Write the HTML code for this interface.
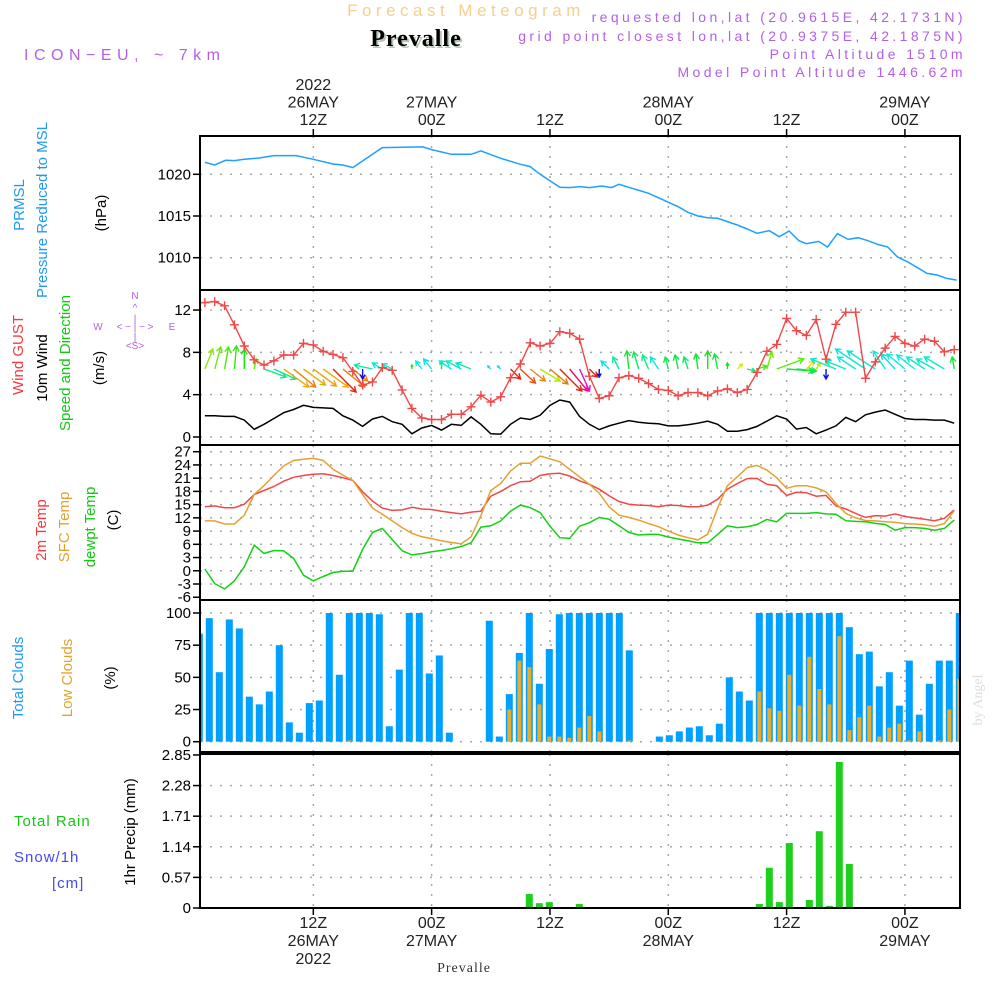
<!DOCTYPE html>
<html><head><meta charset="utf-8"><style>
html,body{margin:0;padding:0;background:#fff;}
svg{display:block;font-family:"Liberation Sans",sans-serif;}
</style></head><body>
<svg id="chart" width="1000" height="1000" viewBox="0 0 1000 1000" xmlns="http://www.w3.org/2000/svg">
<rect x="0" y="0" width="1000" height="1000" fill="#fff"/>
<text x="466" y="16" text-anchor="middle" font-size="17" fill="#f5cf8e" letter-spacing="4.5">Forecast Meteogram</text>
<text x="418" y="48" text-anchor="middle" font-size="24" font-weight="bold" font-family="Liberation Serif, serif" fill="#b8c8b8" letter-spacing="1">Prevalle</text>
<text x="416" y="46" text-anchor="middle" font-size="24" font-weight="bold" font-family="Liberation Serif, serif" fill="#000" letter-spacing="1">Prevalle</text>
<text x="24" y="60" font-size="16" fill="#b45fe6" letter-spacing="5.5">ICON−EU, ~ 7km</text>
<g font-size="14" fill="#b45fe6" text-anchor="end" letter-spacing="3.4">
<text x="966" y="22">requested lon,lat (20.9615E, 42.1731N)</text>
<text x="966" y="41">grid point closest lon,lat (20.9375E, 42.1875N)</text>
<text x="966" y="59">Point Altitude 1510m</text>
<text x="966" y="77">Model Point Altitude 1446.62m</text>
</g>
<g font-size="15">
<text transform="translate(24,205) rotate(-90)" text-anchor="middle" fill="#1e9bf0">PRMSL</text>
<text transform="translate(47,210) rotate(-90)" text-anchor="middle" fill="#1e9bf0">Pressure Reduced to MSL</text>
<text transform="translate(106,213) rotate(-90)" text-anchor="middle" fill="#000">(hPa)</text>
<text transform="translate(23,355) rotate(-90)" text-anchor="middle" fill="#f03c3c">Wind GUST</text>
<text transform="translate(47,368) rotate(-90)" text-anchor="middle" fill="#000">10m Wind</text>
<text transform="translate(70,363) rotate(-90)" text-anchor="middle" fill="#12c812">Speed and Direction</text>
<text transform="translate(104,368) rotate(-90)" text-anchor="middle" fill="#000">(m/s)</text>
<text transform="translate(46,530) rotate(-90)" text-anchor="middle" fill="#f03c3c">2m Temp</text>
<text transform="translate(69,527) rotate(-90)" text-anchor="middle" fill="#e6a030">SFC Temp</text>
<text transform="translate(95,527) rotate(-90)" text-anchor="middle" fill="#12c812">dewpt Temp</text>
<text transform="translate(118,520) rotate(-90)" text-anchor="middle" fill="#000">(C)</text>
<text transform="translate(23,678) rotate(-90)" text-anchor="middle" fill="#1e9bf0">Total Clouds</text>
<text transform="translate(72,678) rotate(-90)" text-anchor="middle" fill="#e6a030">Low Clouds</text>
<text transform="translate(115,678) rotate(-90)" text-anchor="middle" fill="#000">(%)</text>
<text transform="translate(135,832) rotate(-90)" text-anchor="middle" fill="#000">1hr Precip (mm)</text>
<text x="14" y="826" fill="#12c812" letter-spacing="1">Total  Rain</text>
<text x="14" y="862" fill="#4848f0" letter-spacing="1">Snow/1h</text>
<text x="52" y="888" fill="#4848f0" letter-spacing="1">[cm]</text>
</g>
<g fill="#b45fe6" font-size="10" text-anchor="middle">
<text x="135" y="299">N</text><text x="135" y="311">^</text><text x="135" y="322">|</text>
<text x="98" y="330">W</text><text x="135" y="330">&lt; − | − &gt;</text><text x="172" y="330">E</text>
<text x="135" y="340">|</text><text x="135" y="349">&lt;S&gt;</text>
</g>
<text transform="translate(982,700) rotate(-90)" text-anchor="middle" font-size="14" font-family="Liberation Serif, serif" fill="#ddd">by Angel</text>
<text x="464" y="972" text-anchor="middle" font-size="14" font-family="Liberation Serif, serif" fill="#333" letter-spacing="1">Prevalle</text>
<g id="plots"></g>
</svg>
<script>
// ---------- data ----------
const hours = [1,2,3,4,5,6,7,8,9,10,11,12,13,14,15,16,17,18,19,20,21,22,23,24,25,26,27,28,29,30,31,32,33,34,35,36,37,38,39,40,41,42,43,44,45,46,47,48,49,50,51,52,53,54,55,56,57,58,59,60,61,62,63,64,65,66,67,68,69,70,71,72,73,74,75,76,77];
const timeTicks = [12,24,36,48,60,72];
const topLabels = [["2022","26MAY","12Z"],["27MAY","00Z"],["12Z"],["28MAY","00Z"],["12Z"],["29MAY","00Z"]];
const bottomLabels = [["12Z","26MAY","2022"],["00Z","27MAY"],["12Z"],["00Z","28MAY"],["12Z"],["00Z","29MAY"]];

const pressTimes = [1,2,3.1,4,5,6.5,8,10.25,12,14,15,16,19,23.1,24,26,28,29,31,33,34,35,37,38,39,40,41.25,42.25,43,44,46,49,50,51,52,53,55,56,57,58.25,59.25,60.25,61.25,62,63.25,64.15,65.15,66.25,67.25,68.25,69.25,70.25,71.25,72.25,74.25,75.25,76.25,77.25];
const pressVals = [1021.44,1021.12,1021.68,1021.64,1021.8,1021.96,1022.24,1022.24,1021.8,1021.24,1021.12,1020.8,1023.2,1023.28,1022.96,1022.4,1022.4,1022.8,1021.92,1021.2,1020.92,1020.0,1018.44,1018.4,1018.52,1018.4,1018.6,1018.4,1018.8,1018.44,1017.72,1016.12,1015.44,1015.0,1014.8,1014.72,1013.92,1013.44,1012.92,1013.24,1012.52,1013.2,1012.04,1011.68,1011.96,1011.28,1012.88,1012.2,1012.4,1012.04,1011.6,1011.28,1010.08,1009.52,1008.12,1007.92,1007.52,1007.32];
const pressTicks = [1010,1015,1020];

const gust = [12.7,12.8,12.4,10.6,8.6,7.3,6.8,7.2,7.75,7.75,8.85,8.7,8.1,7.8,7.5,6.2,4.9,5.2,6.55,6.3,4.45,2.7,1.8,1.65,1.65,2.15,2.15,2.85,3.95,3.3,3.8,5.6,6.9,8.9,8.6,8.85,9.95,9.8,9.25,5.75,3.65,3.9,5.6,5.8,5.55,5.05,4.5,4.4,3.9,4.2,4.2,3.9,4.35,4.55,4.2,4.5,6.1,8.1,8.75,11.2,10.05,9.6,11.1,7.35,10.65,11.8,11.8,5.55,7.1,8.4,9.5,8.85,8.6,9.25,9.05,8.05,8.25];
const wind10 = [2.0,2.0,1.95,1.95,1.6,0.73,1.2,1.75,2.3,2.6,3.0,2.8,2.75,2.7,2.0,1.6,1.0,1.7,1.95,1.45,1.2,0.3,0.85,1.1,0.65,1.2,1.1,1.9,1.2,0.3,0.27,1.2,1.8,1.65,2.05,3.0,3.5,3.3,1.95,1.2,0.7,1.05,1.3,1.55,1.4,1.3,1.25,1.05,1.05,1.15,1.3,1.5,1.2,0.55,0.55,0.7,1.0,1.5,2.0,1.7,0.75,0.9,0.3,0.65,1.05,1.85,1.45,2.1,2.35,2.55,2.15,1.75,1.65,1.65,1.6,1.6,1.3];
const windU = [0.8,0.6,0.4,0.2,0,0.2,2.2,2.2,2.5,2.2,2.2,2.3,2.5,2.3,2.2,1.5,0,-1.8,-1.0,-1.0,0,0,-0.6,-0.8,0,-1.2,-1.5,-1.5,0,-0.3,-0.3,1.0,1.5,1.5,2.0,1.8,2.2,1.8,1.0,0.8,0,-0.8,-0.6,-0.2,-0.5,-0.6,-0.8,-0.3,-0.3,-0.4,-0.2,0,-0.3,0,0.5,0.8,1.0,0.5,2.7,2.7,2.0,0.8,0.4,0,-2.5,-2.0,-1.8,-3.0,-2.8,-1.2,-1.4,-1.8,-1.8,-1.8,-1.8,-2.0,-0.2];
const windV = [2.0,2.2,2.2,2.3,2.0,1.0,-0.8,-1.0,-1.8,-1.8,-1.6,-1.7,-1.8,-2.3,-1.8,-1.2,-1.0,0.4,0.6,0.5,0,0.4,0.8,1.0,0.8,0.8,0.8,0.6,0,0.3,0.3,-1.0,-1.4,-1.2,-1.2,-1.5,-2.2,-2.2,-2.2,-0.8,-0.8,0.8,1.2,1.8,1.7,1.4,1.2,1.2,1.4,1.2,1.5,1.8,1.5,0.6,0.5,-0.2,0.3,1.7,1.0,-0.2,-0.2,0.8,0.6,-1.0,1.0,0.8,1.2,2.0,1.8,1.8,1.5,1.5,1.4,1.2,1.0,1.2,1.2];
const windTicks = [0,4,8,12];

const temp2m = [14.5,14.7,14.3,14.3,15.1,17.3,18.2,19.1,20.3,21.2,21.6,21.9,22.0,21.6,21.1,20.5,17.9,15.8,14.2,13.7,13.8,14.4,14.0,13.9,13.5,13.2,12.9,13.3,13.5,16.9,18.0,19.3,20.2,20.3,21.6,22.0,22.1,21.5,20.4,19.6,18.5,17.0,15.7,15.1,14.9,14.8,14.5,14.9,14.8,14.5,14.5,14.9,16.2,18.5,19.8,20.9,20.95,19.6,19.3,17.1,17.8,17.7,16.9,17.1,14.7,14.0,13.0,12.1,12.5,12.4,12.9,12.3,12.0,11.7,11.35,11.9,13.8];
const tempSfc = [11.3,11.3,10.6,10.6,12.6,17.3,19.3,21.6,23.8,25.0,25.3,25.5,25.0,23.0,21.7,20.5,17.3,14.2,12.8,11.3,9.8,8.5,7.7,7.3,6.8,6.4,6.1,7.7,12.5,18.2,19.8,22.6,24.4,24.4,26.0,25.4,24.7,23.0,21.3,19.6,17.6,14.5,12.6,12.1,11.5,10.7,10.0,9.0,8.1,7.5,7.0,8.3,14.2,19.3,21.3,23.4,23.9,22.8,21.1,18.7,19.3,19.3,18.8,17.9,15.3,13.0,12.0,11.4,11.3,11.1,11.0,10.7,10.6,10.4,10.1,10.7,13.6];
const dewpt = [0.4,-2.9,-4.1,-2.3,0.9,5.8,3.95,4.6,4.5,2.8,-1.0,-2.3,-1.3,-0.4,-0.1,-0.1,4.85,8.7,9.6,7.1,4.55,3.6,3.9,4.3,4.6,5.0,5.5,6.35,9.9,10.2,11.3,13.5,14.9,14.3,13.2,10.1,7.5,7.35,10.1,10.9,12.1,11.7,10.2,8.7,8.1,8.25,8.25,7.65,7.2,6.8,6.35,6.35,8.25,10.2,9.8,10.0,10.5,11.65,11.1,13.0,13.0,13.0,13.2,12.9,12.8,11.35,11.2,11.1,10.75,10.5,9.2,9.8,9.8,9.6,9.2,9.6,11.5];
const tempTicks = [-6,-3,0,3,6,9,12,15,18,21,24,27];

const cloudTotal = [84,96,54,95,88,35,29,39,75,15,7,30,32,100,52,100,100,100,99,12,56,100,100,53,67,7,0,0,0,94,4,37,69,100,45,72,99,100,100,100,100,100,100,71,0,0,4,5,8,11,12,5,14,50,39,32,100,100,100,100,100,100,100,100,100,89,68,70,43,54,28,63,21,45,63,63,100];
const cloudLow = [0,0,0,0,0,0,0,0,0,0,0,0,0,0,0,1,0,0,0,0,0,0,0,0,0,0,0,0,0,0,0,25,63,58,29,4,4,3,11,20,8,0,0,1,0,0,0,0,0,0,0,0,0,0,0,0,39,26,24,52,28,66,41,29,82,9,19,28,4,11,14,1,8,0,1,25,49];
const cloudTicks = [0,25,50,75,100];

const precip = [0,0,0,0,0,0,0,0,0,0,0,0,0,0,0,0,0,0,0,0,0,0,0,0,0,0,0,0,0,0,0,0,0,0.26,0.09,0.11,0,0,0.075,0,0,0,0,0,0,0,0,0,0,0,0,0,0,0,0,0,0.075,0.75,0.11,1.21,0,0.15,1.43,0.04,2.72,0.82,0,0,0,0,0,0,0,0,0,0,0];
const precipTicks = [0,0.57,1.14,1.71,2.28,2.85];
const precipTickLabels = ["0","0.57","1.14","1.71","2.28","2.85"];

// ---------- axes ----------
const X0 = 200, X1 = 960;
const xT = h => 195 + h * 9.86;            // time axis (hours since 00Z 26 May)
const xBar = k => 199.3 + (k - 1) * 10;    // hourly bar slot axis
const yP = v => 174.3 + (1020 - v) * 8.34;
const yW = v => 437 - v * 10.58;
const yTemp = v => 451.7 + (27 - v) * 4.41;
const yC = v => 741.7 - v * 1.287;
const yR = v => 908 - v * 53.7;

const NS = "http://www.w3.org/2000/svg";
const root = document.getElementById('plots');
function mk(tag, attrs, parent) {
  const e = document.createElementNS(NS, tag);
  for (const k in attrs) e.setAttribute(k, attrs[k]);
  (parent || root).appendChild(e);
  return e;
}
function linePath(xs, ys) { return xs.map((x, i) => (i ? 'L' : 'M') + x.toFixed(1) + ',' + ys[i].toFixed(1)).join(''); }

const panels = [
  {name:'pressure', top:136, bot:290, ticks:pressTicks, labels:pressTicks.map(String), y:yP},
  {name:'wind', top:290, bot:445, ticks:windTicks, labels:windTicks.map(String), y:yW},
  {name:'temperature', top:445, bot:600, ticks:tempTicks, labels:tempTicks.map(String), y:yTemp},
  {name:'clouds', top:600, bot:752, ticks:cloudTicks, labels:cloudTicks.map(String), y:yC},
  {name:'precip', top:754, bot:908, ticks:precipTicks, labels:precipTickLabels, y:yR}
];

panels.forEach(p => {
  const g = mk('g', {});
  
  
  p.ticks.forEach((t, i) => {
    const yy = p.y(t);
    if (yy > p.top + 3 && yy < p.bot - 3) {
      const gl = mk('line', {x1:X0, x2:X1, y1:yy, y2:yy, stroke:'#a8a8a8', 'stroke-width':1.5, 'stroke-dasharray':'2,8'}, g);
      
      
    }
    const tk = mk('line', {x1:X0 - 7, x2:X0, y1:yy, y2:yy, stroke:'#000', 'stroke-width':1.5}, g);
    
    
    const tl = mk('text', {x:X0 - 9, y:yy + 5, 'text-anchor':'end', 'font-size':15, fill:'#000'}, g);
    tl.textContent = p.labels[i];
    
    
  });
  timeTicks.forEach(h => {
    const vl = mk('line', {x1:xT(h), x2:xT(h), y1:p.top, y2:p.bot, stroke:'#a8a8a8', 'stroke-width':1.5, 'stroke-dasharray':'2,8'}, g);
    
    
  });
  p.g = g;
});

// pressure
const pp = mk('path', {d: linePath(pressTimes.map(xT), pressVals.map(yP)), fill:'none', stroke:'#1ea0ff', 'stroke-width':1.5});



// wind 10m
const wl = mk('path', {d: linePath(hours.map(xT), wind10.map(yW)), fill:'none', stroke:'#000', 'stroke-width':1.5});



// wind arrows
const hueStops = [[0,120],[20,85],[45,62],[105,150],[115,160],[122,60],[128,35],[134,15],[138,-20],[150,-40],[185,-135],[230,-170],[280,-200],[320,-175],[345,-220],[360,-240]];
function dirColor(dx, dy) {
  let a = Math.atan2(dx, -dy) * 180 / Math.PI; if (a < 0) a += 360;
  let h = 120;
  for (let i = 1; i < hueStops.length; i++) {
    if (a <= hueStops[i][0]) { const [a0,h0] = hueStops[i-1], [a1,h1] = hueStops[i]; h = h0 + (h1 - h0) * (a - a0) / (a1 - a0); break; }
  }
  h = ((h % 360) + 360) % 360;
  return 'hsl(' + h.toFixed(0) + ',90%,48%)';
}
const arrowG = mk('g', {});


const ARROW_SCALE = 10, ARROW_BASE = 369;
hours.forEach((h, i) => {
  const dx = windU[i] * ARROW_SCALE, dy = -windV[i] * ARROW_SCALE;
  const len = Math.hypot(dx, dy);
  if (len < 1) return;
  const x1 = xT(h), y1 = ARROW_BASE, x2 = x1 + dx, y2 = y1 + dy;
  const c = dirColor(dx, dy);
  const ux = dx / len, uy = dy / len, hl = Math.min(6, len * 0.5);
  const d = `M${x1},${y1}L${x2},${y2}M${x2 - hl*(ux*0.87 - uy*0.5)},${y2 - hl*(uy*0.87 + ux*0.5)}L${x2},${y2}L${x2 - hl*(ux*0.87 + uy*0.5)},${y2 - hl*(uy*0.87 - ux*0.5)}`;
  const a = mk('path', {d, fill:'none', stroke:c, 'stroke-width':1.4}, arrowG);
  
  
});

// gust
const gl = mk('path', {d: linePath(hours.map(xT), gust.map(yW)), fill:'none', stroke:'#f04848', 'stroke-width':1.4});


hours.forEach((h, i) => {
  const x = xT(h), y = yW(gust[i]);
  const m = mk('path', {d:`M${x-4.5},${y}H${x+4.5}M${x},${y-4.5}V${y+4.5}`, stroke:'#f04848', 'stroke-width':1.4});
  
  
});

// temperatures
[[temp2m,'#f04848','temp-2m-line'],[tempSfc,'#e6a030','temp-sfc-line'],[dewpt,'#12d012','dewpoint-line']].forEach(([arr,c,n]) => {
  const l = mk('path', {d: linePath(hours.map(xT), arr.map(yTemp)), fill:'none', stroke:c, 'stroke-width':1.5});
  
  
});

// clouds
hours.forEach((k, i) => {
  const cx = xBar(k);
  if (cloudTotal[i] > 0) {
    const x = Math.max(X0 + 1, cx - 3.5), w = Math.min(cx + 3.5, X1 - 1) - x;
    const b = mk('rect', {x, y:yC(cloudTotal[i]), width:w, height:yC(0) - yC(cloudTotal[i]), fill:'#00a0ff'});
    
    
  }
  if (cloudLow[i] > 0) {
    const x = Math.max(X0 + 1, cx - 2), w = Math.min(cx + 2, X1 - 1) - x;
    const b = mk('rect', {x, y:yC(cloudLow[i]), width:w, height:yC(0) - yC(cloudLow[i]), fill:'#e8ad2e'});
    
    
  }
});

// precip
hours.forEach((k, i) => {
  if (precip[i] <= 0) return;
  const cx = xBar(k);
  const b = mk('rect', {x:cx - 3.5, y:yR(precip[i]), width:7, height:yR(0) - yR(precip[i]), fill:'#1ecf1e'});
  
  
});
const pb = mk('line', {x1:X0, x2:X1, y1:yR(0), y2:yR(0), stroke:'#000', 'stroke-width':1.5, 'stroke-dasharray':'5,3'});



// frames
panels.forEach(p => {
  const f = mk('rect', {x:X0, y:p.top, width:X1 - X0, height:p.bot - p.top, fill:'none', stroke:'#000', 'stroke-width':2});
  
  
});

// time ticks and labels
timeTicks.forEach((h, i) => {
  const x = xT(h);
  const t1 = mk('line', {x1:x, x2:x, y1:129, y2:136, stroke:'#000', 'stroke-width':1.5});
  
  
  const t2 = mk('line', {x1:x, x2:x, y1:908, y2:915, stroke:'#000', 'stroke-width':1.5});
  
  
  const top = topLabels[i];
  top.forEach((s, j) => {
    const t = mk('text', {x, y:125 - (top.length - 1 - j) * 17.5, 'text-anchor':'middle', 'font-size':16, fill:'#222'});
    t.textContent = s;
    
    
  });
  bottomLabels[i].forEach((s, j) => {
    const t = mk('text', {x, y:928 + j * 18, 'text-anchor':'middle', 'font-size':16, fill:'#222'});
    t.textContent = s;
    
    
  });
});
</script>
</body></html>
